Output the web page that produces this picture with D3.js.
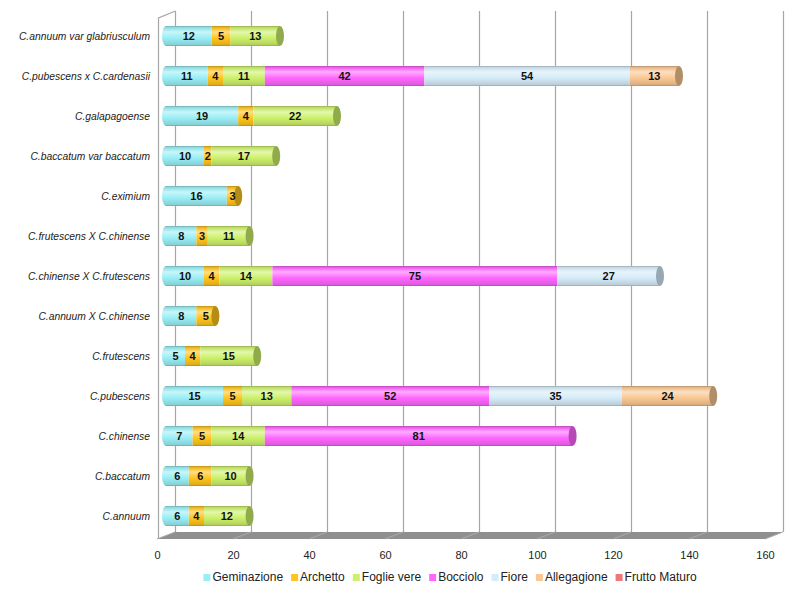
<!DOCTYPE html>
<html><head><meta charset="utf-8">
<script src="https://cdn.jsdelivr.net/npm/d3@7"></script>
<style>
html,body{margin:0;padding:0;background:#fff;}
svg{display:block;font-family:"Liberation Sans",Arial,sans-serif;}
</style></head>
<body><svg id="c" width="800" height="595"></svg>
<script>
const categories = ["C.annuum var glabriusculum","C.pubescens x C.cardenasii","C.galapagoense","C.baccatum var baccatum","C.eximium","C.frutescens X C.chinense","C.chinense X C.frutescens","C.annuum X C.chinense","C.frutescens","C.pubescens","C.chinense","C.baccatum","C.annuum"];
const seriesNames = ["Geminazione","Archetto","Foglie vere","Bocciolo","Fiore","Allegagione","Frutto Maturo"];
const seriesColors = ["#99EEF5","#FFC41E","#CCF06A","#FF66FF","#D5EBF8","#FAC792","#EE7777"];
const geminazione = [12,11,19,10,16,8,10,8,5,15,7,6,6];
const archetto    = [5,4,4,2,3,3,4,5,4,5,5,6,4];
const foglieVere  = [13,11,22,17,0,11,14,0,15,13,14,10,12];
const bocciolo    = [0,42,0,0,0,0,75,0,0,52,81,0,0];
const fiore       = [0,54,0,0,0,0,27,0,0,35,0,0,0];
const allegagione = [0,13,0,0,0,0,0,0,0,24,0,0,0];
const fruttoMaturo= [0,0,0,0,0,0,0,0,0,0,0,0,0];
const tickValues = [0,20,40,60,80,100,120,140,160];

const seriesValues = [geminazione,archetto,foglieVere,bocciolo,fiore,allegagione,fruttoMaturo];
const svg = d3.select("#c");
const x = d3.scaleLinear().domain([0,160]).range([157,765]);
const y = d3.scaleBand().domain(categories).range([16,536]).paddingInner(0.5).paddingOuter(0.25);
const DX = 18, DY = -7;         // depth offset of back wall
const floorY = 539, topY = 18;
const midDX = 9;

// defs: gradients
const defs = svg.append("defs");
seriesColors.forEach((c,i)=>{
  const g = defs.append("linearGradient").attr("id","g"+i).attr("x1",0).attr("y1",0).attr("x2",0).attr("y2",1);
  g.append("stop").attr("offset","0%").attr("stop-color", d3.color(c).darker(0.9));
  g.append("stop").attr("offset","8%").attr("stop-color", d3.color(c).darker(0.2));
  g.append("stop").attr("offset","30%").attr("stop-color", d3.interpolateRgb(c,"#ffffff")(0.45));
  g.append("stop").attr("offset","60%").attr("stop-color", c);
  g.append("stop").attr("offset","92%").attr("stop-color", d3.color(c).darker(0.35));
  g.append("stop").attr("offset","100%").attr("stop-color", d3.color(c).darker(1.0));
});

// floor
svg.append("path")
  .attr("d", `M${x(0)},${floorY} L${x(0)+DX},${floorY+DY} L${x(160)+DX},${floorY+DY} L${x(160)},${floorY} Z`)
  .attr("fill","#8f8f8f");
svg.append("g").selectAll("line").data(tickValues).join("line")
  .attr("x1",d=>x(d)+DX).attr("y1",floorY+DY).attr("x2",d=>x(d)).attr("y2",floorY)
  .attr("stroke","#ababab").attr("stroke-width",1);

// back gridlines
svg.append("g").selectAll("line").data(tickValues).join("line")
  .attr("x1",d=>x(d)+DX+0.5).attr("x2",d=>x(d)+DX+0.5)
  .attr("y1",topY+DY).attr("y2",floorY+DY)
  .attr("stroke","#a6a6a6").attr("stroke-width",1.2);

// left wall
svg.append("path")
  .attr("d",`M${x(0)+DX+0.5},${topY+DY} L${x(0)+1.5},${topY} L${x(0)+1.5},${floorY}`)
  .attr("fill","none").attr("stroke","#a6a6a6").attr("stroke-width",1.2);

// bars
const rx = 4;
const bh = y.bandwidth();
categories.forEach((cat,ci)=>{
  const gy = y(cat);
  const segs = [];
  let acc = 0;
  seriesValues.forEach((arr,si)=>{
    const v = arr[ci];
    if (v>0){ segs.push({si, v, start:acc, end:acc+v}); acc+=v; }
  });
  const g = svg.append("g");
  const first = segs[0];
  g.append("ellipse").attr("cx",x(0)+midDX).attr("cy",gy+bh/2).attr("rx",rx).attr("ry",bh/2)
    .attr("fill",`url(#g${first.si})`);
  segs.forEach(s=>{
    g.append("rect").attr("x",x(s.start)+midDX).attr("y",gy)
      .attr("width",x(s.end)-x(s.start)).attr("height",bh)
      .attr("fill",`url(#g${s.si})`);
  });
  const last = segs[segs.length-1];
  g.append("ellipse").attr("cx",x(last.end)+midDX).attr("cy",gy+bh/2).attr("rx",rx).attr("ry",bh/2)
    .attr("fill",d3.color(seriesColors[last.si]).darker(0.95));
  segs.forEach(s=>{
    g.append("text").attr("x",(x(s.start)+x(s.end))/2+midDX).attr("y",gy+bh/2+4)
      .attr("text-anchor","middle").attr("font-size","11px").attr("font-weight","bold")
      .attr("font-family","'Liberation Sans Narrow','Liberation Sans',Arial,sans-serif")
      .attr("fill","#111").text(s.v);
  });
});

// category labels
svg.append("g").selectAll("text").data(categories).join("text")
  .attr("x",150).attr("y",d=>y(d)+bh/2+4).attr("text-anchor","end")
  .attr("font-size","10.3px").attr("font-style","italic").attr("fill","#222").text(d=>d);

// x axis
const ax = svg.append("g").attr("transform",`translate(0,${floorY+8})`)
  .call(d3.axisBottom(x).tickValues(tickValues).tickSize(0).tickPadding(4));
ax.select(".domain").remove();
ax.selectAll("text").attr("font-size","11px").attr("fill","#222")
  .attr("font-family","'Liberation Sans Narrow','Liberation Sans',Arial,sans-serif");

// legend
const leg = svg.append("g");
let lx = 0;
seriesNames.forEach((n,i)=>{
  const it = leg.append("g");
  it.append("rect").attr("x",0).attr("y",-7).attr("width",7).attr("height",7).attr("fill",seriesColors[i]);
  const t = it.append("text").attr("x",9).attr("y",0).attr("font-size","12px").attr("fill","#222").text(n);
  const w = 9 + t.node().getComputedTextLength();
  it.attr("transform",`translate(${lx},0)`);
  lx += w + 8;
});
const totalW = lx - 8;
leg.attr("transform",`translate(${450-totalW/2},581)`);
</script></body></html>
